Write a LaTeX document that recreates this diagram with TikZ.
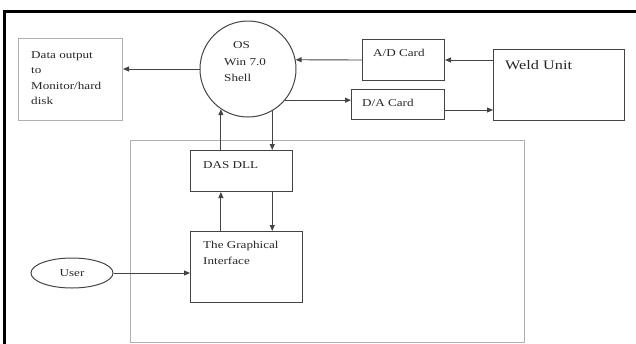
\documentclass[tikz,border=0pt]{standalone}
\usepackage{fontspec}
\setmainfont{Liberation Serif}[FakeStretch=1.25]
\usetikzlibrary{arrows.meta,shapes.geometric,calc}
\definecolor{ln}{HTML}{444444}
\definecolor{lgray}{HTML}{B0B0B0}
\definecolor{txt}{HTML}{262626}
\begin{document}
\begin{tikzpicture}[x=1pt,y=-1pt,
  box/.style={draw=ln,line width=1pt,rectangle,inner sep=0pt},
  lbox/.style={draw=lgray,line width=1pt,rectangle,inner sep=0pt},
  lbl/.style={inner sep=0pt,text=txt,font=\fontsize{10.5}{15.5}\selectfont,align=left},
  conn/.style={draw=ln,line width=0.9pt,-{Triangle[length=6pt,width=5pt]}},
  plain/.style={draw=ln,line width=0.9pt}]
\useasboundingbox (0,0) rectangle (636,343);
% outer frame
\draw[line width=2.3pt,black] (4.5,344) -- (4.5,11.5) -- (637,11.5);
% big light container
\node[lbox,minimum width=394pt,minimum height=202pt,anchor=north west] (sys) at (130,140) {};
% boxes
\node[lbox,minimum width=104pt,minimum height=82pt,anchor=north west] (data) at (18,38) {};
\node[lbl,anchor=west] (datat) at (31,78) {Data output\\to\\Monitor/hard\\disk};
\node[draw=ln,line width=1pt,circle,minimum size=96pt,inner sep=0pt] (os) at (248,69) {};
\node[lbl,anchor=west,font=\fontsize{10.5}{16.5}\selectfont] (ost) at (224,62) {\hspace{9pt}OS\\Win 7.0\\Shell};
\node[box,minimum width=82pt,minimum height=41pt,anchor=north west] (ad) at (362,39) {};
\node[lbl,anchor=west] (adt) at (373,53) {A/D Card};
\node[box,minimum width=93pt,minimum height=30pt,anchor=north west] (da) at (351,89) {};
\node[lbl,anchor=west] (dat) at (362,103) {D/A Card};
\node[box,minimum width=131pt,minimum height=71pt,anchor=north west] (weld) at (493,49) {};
\node[lbl,anchor=west,font=\fontsize{13}{15}\selectfont] (weldt) at (505,65) {Weld Unit};
\node[box,minimum width=102pt,minimum height=41pt,anchor=north west] (dll) at (190,150) {};
\node[lbl,anchor=west] (dllt) at (203,165) {DAS DLL};
\node[box,minimum width=112pt,minimum height=71pt,anchor=north west] (gui) at (190,231) {};
\node[lbl,anchor=west] (guit) at (203,253) {The Graphical\\Interface};
\node[draw=ln,line width=1pt,ellipse,minimum width=82pt,minimum height=30pt,inner sep=0pt,text=txt,font=\fontsize{10.5}{12}\selectfont] (user) at (72,273) {User};
% connectors
\coordinate (y110) at (0,110);
\draw[conn] (os.west) -- (data.east |- os.west);
\draw[conn] (ad.west) -- (os.11);
\draw[conn] (weld.west |- ad.east) -- (ad.east);
\draw[conn] (os.-40) -- (os.-40 -| da.west);
\draw[conn] (da.east |- y110) -- (weld.west |- y110);
\draw[conn] (os.-60) -- (os.-60 |- dll.north);
\draw[conn] (os.-124 |- dll.north) -- (os.-124);
\draw[conn] (gui.north -| os.-124) -- (dll.south -| os.-124);
\draw[conn] (dll.south -| os.-60) -- (gui.north -| os.-60);
\draw[conn] (user.east) -- (gui.west |- user.east);
\end{tikzpicture}
\end{document}
